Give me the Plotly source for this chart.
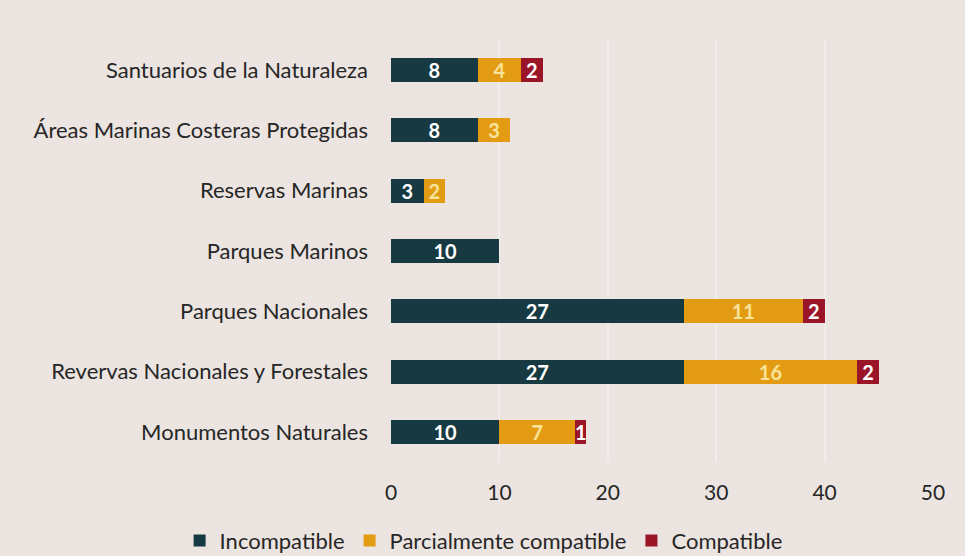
import plotly.graph_objects as go

categories = [
    "Santuarios de la Naturaleza",
    "Áreas Marinas Costeras Protegidas",
    "Reservas Marinas",
    "Parques Marinos",
    "Parques Nacionales",
    "Revervas Nacionales y Forestales",
    "Monumentos Naturales",
]
incompatible = [8, 8, 3, 10, 27, 27, 10]
parcial = [4, 3, 2, None, 11, 16, 7]
compatible = [2, None, None, None, 2, 2, 1]
x_ticks = [0, 10, 20, 30, 40, 50]

series = [
    ("Incompatible", incompatible, "#173a42", "#ffffff"),
    ("Parcialmente compatible", parcial, "#e49b14", "#f7e49a"),
    ("Compatible", compatible, "#9a1528", "#ffffff"),
]

fig = go.Figure()
for name, vals, color, tcolor in series:
    fig.add_trace(go.Bar(
        y=categories, x=vals, name=name, orientation="h",
        marker=dict(color=color, line=dict(width=0)),
        text=[("" if v is None else str(v)) for v in vals],
        textposition="inside", insidetextanchor="middle", textangle=0,
        textfont=dict(family="Lato", size=20, color=tcolor, weight="bold"),
        cliponaxis=False,
    ))

fig.update_layout(
    barmode="stack",
    bargap=0.6,
    width=965, height=556,
    paper_bgcolor="#ebe4e0",
    plot_bgcolor="#ebe4e0",
    margin=dict(l=391, r=32, t=40, b=94, autoexpand=False),
    font=dict(family="Lato", size=22, color="#262626"),
    uniformtext=dict(minsize=19, mode="show"),
    legend=dict(orientation="h", x=-0.39, xref="paper", xanchor="left",
                y=-0.137, yref="paper", yanchor="top",
                font=dict(size=22), itemwidth=30, traceorder="normal",
                bgcolor="rgba(0,0,0,0)"),
    xaxis=dict(range=[0, 50], tickvals=x_ticks, showgrid=True,
               gridcolor="rgba(255,255,255,0.35)", gridwidth=1.5, zeroline=False,
               showline=False, ticklabelstandoff=16, tickfont=dict(size=21)),
    yaxis=dict(autorange="reversed", showgrid=False, showline=False,
               ticklabelstandoff=22, tickfont=dict(size=22)),
)

fig.write_html("out.html", config={"displayModeBar": False},
               post_script="document.body.style.margin='0';document.body.style.background='#ebe4e0';")
